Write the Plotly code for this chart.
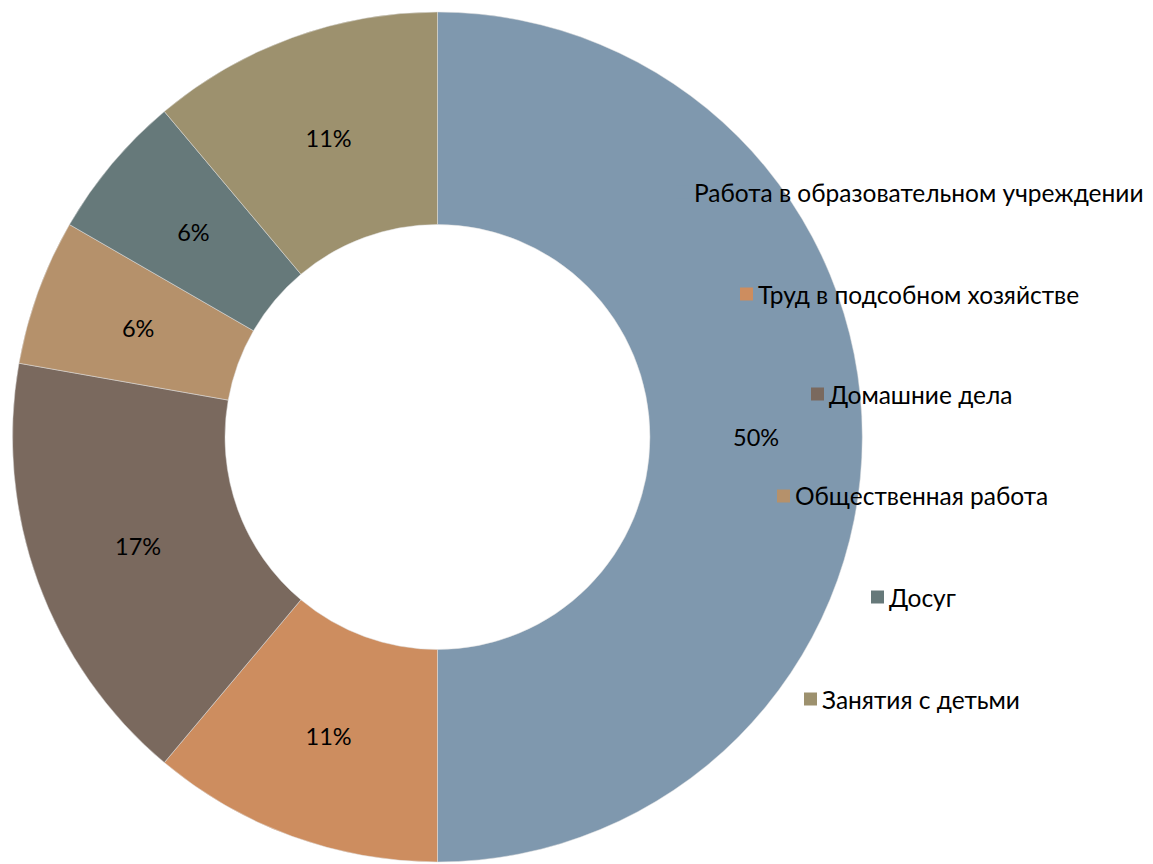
import plotly.graph_objects as go

categories = ["Работа в образовательном учреждении", "Труд в подсобном хозяйстве",
              "Домашние дела", "Общественная работа", "Досуг", "Занятия с детьми"]
values = [9, 2, 3, 1, 1, 2]
colors = ["#7F98AE", "#CD8D5F", "#7A695E", "#B5916B", "#66797A", "#9D916E"]

W, H = 1153, 864
# page body has an 8px margin; positions below are in figure pixels
CX, CY = 429.5, 429.0   # pie centre (from left, from top)
R = 425.0               # outer radius
RL = 362.0              # radius of helper ring that carries the percent labels


def dom(r):
    return dict(x=[(CX - r) / W, (CX + r) / W], y=[1 - (CY + r) / H, 1 - (CY - r) / H])


fig = go.Figure()
fig.add_trace(go.Pie(
    labels=categories, values=values, hole=0.5, sort=False, direction="clockwise",
    rotation=0, marker=dict(colors=colors, line=dict(color="#E0E0E0", width=0.5)),
    textinfo="none", domain=dom(R), showlegend=False, hoverinfo="label+percent"))
fig.add_trace(go.Pie(
    labels=categories, values=values, hole=0.76, sort=False, direction="clockwise",
    rotation=0, marker=dict(colors=["rgba(0,0,0,0)"] * len(values), line=dict(width=0)),
    textinfo="percent", texttemplate="%{percent:.0%}", textposition="inside",
    insidetextorientation="horizontal",
    textfont=dict(family="Lato", size=23.5, color="#000000"),
    domain=dom(RL), showlegend=False, hoverinfo="skip"))

# legend items placed like the reference (left x of marker, center y in pixels)
legend_pos = [(668, 184), (732, 286), (803, 386), (769, 488), (863, 589), (796, 691)]
for (lx, ly), name, c in zip(legend_pos, categories, colors):
    fig.add_shape(type="rect", xref="paper", yref="paper",
                  x0=lx / W, x1=(lx + 13) / W, y0=1 - (ly + 6.5) / H, y1=1 - (ly - 6.5) / H,
                  fillcolor=c, line=dict(width=0))
    fig.add_annotation(x=(lx + 16) / W, y=1 - ly / H, xref="paper", yref="paper",
                       text=name, showarrow=False, xanchor="left", yanchor="middle",
                       font=dict(family="Lato", size=24.5, color="#000000"))

fig.update_layout(width=W, height=H, margin=dict(l=0, r=0, t=0, b=0),
                  paper_bgcolor="white", plot_bgcolor="white")
fig.write_html("out.html")
